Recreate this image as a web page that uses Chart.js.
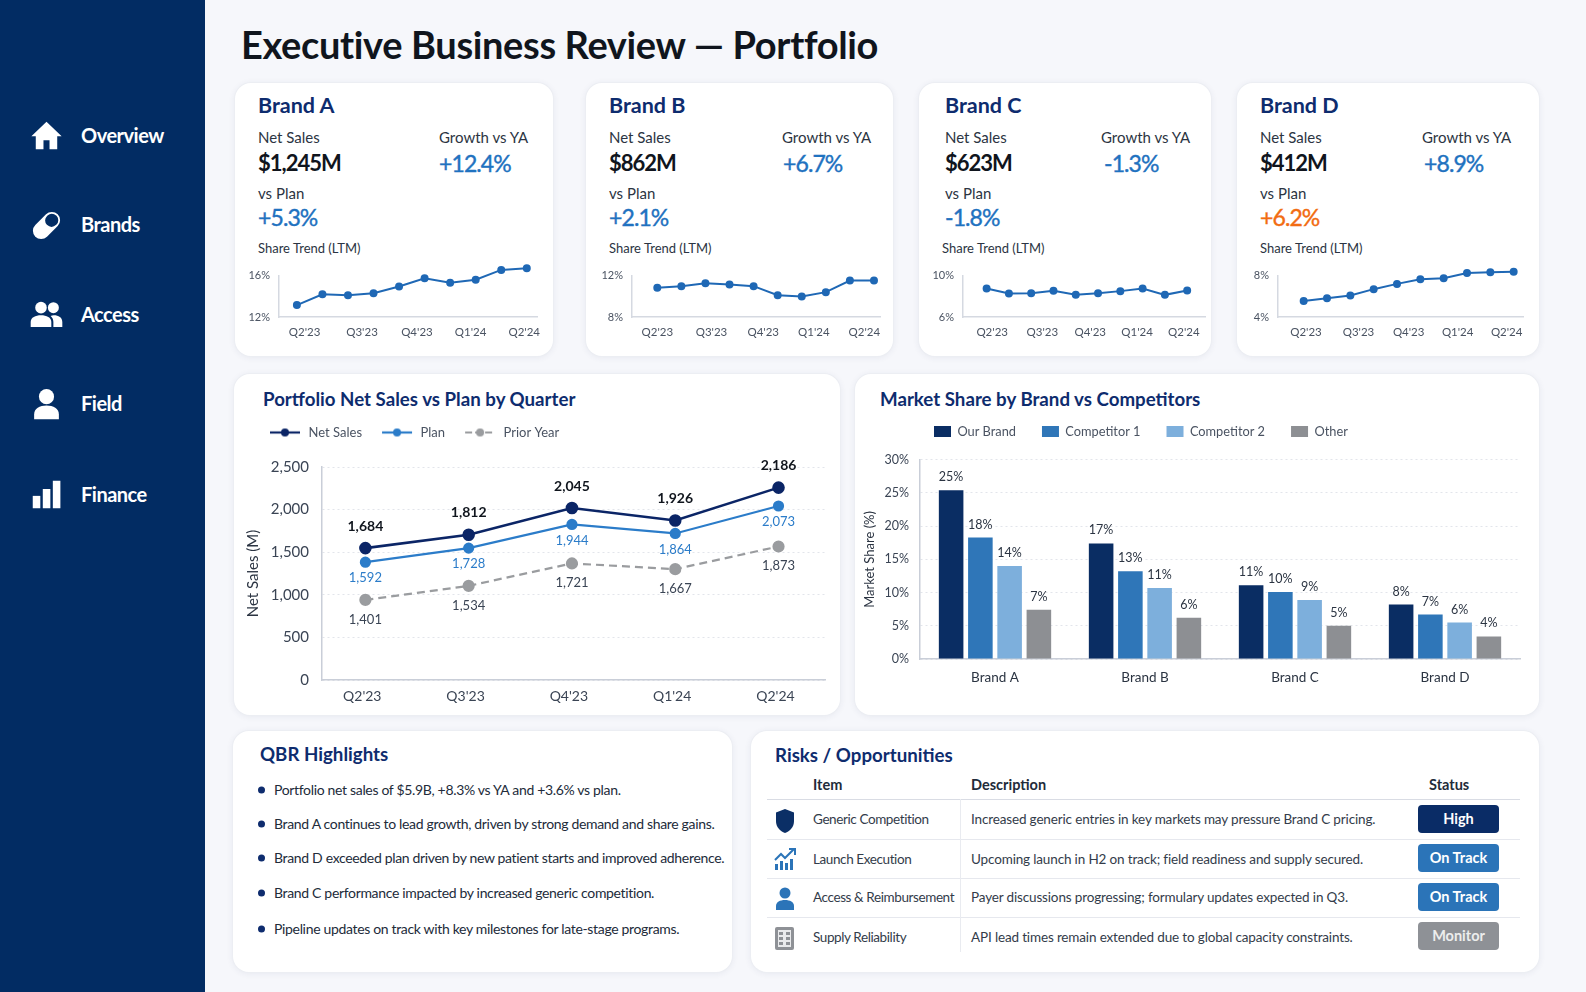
<!DOCTYPE html>
<html lang="en">
<head>
<meta charset="utf-8">
<title>Executive Business Review — Portfolio</title>
<script src="https://cdn.jsdelivr.net/npm/chart.js@4"></script>
<style>
  * { box-sizing: border-box; margin: 0; padding: 0; }
  html, body { width: 1586px; height: 992px; overflow: hidden; }
  body { position: relative; background: #f6f7fb; font-family: Lato, "Noto Sans", sans-serif; color: #222b3a; }
  .abs, .t, canvas, .card, .pill, svg { position: absolute; }
  .t { white-space: nowrap; line-height: 1; transform: translateY(-50%); }
  #side { position: absolute; left: 0; top: 0; width: 205px; height: 992px; background: #022c63; }
  .nav { left: 81px; color: #fff; font-size: 20px; font-weight: 700; letter-spacing: -0.5px; }
  h1.t { left: 241px; top: 44px; font-size: 38px; font-weight: 700; color: #10151d; letter-spacing: -0.36px; }
  .card { background: #fff; border-radius: 16px; box-shadow: 0 0 0 1px #eceef3, 0 1px 7px rgba(40,60,100,.09); }
  .brand { font-size: 21.5px; font-weight: 700; color: #0e2c6e; }
  .lab { font-size: 15px; color: #2b3442; }
  .num { font-size: 22px; font-weight: 700; color: #10151d; letter-spacing: -1px; }
  .pct { font-size: 23px; font-weight: 400; color: #1f72c0; letter-spacing: -0.9px; -webkit-text-stroke: 0.4px currentColor; }
  .small { font-size: 13px; color: #2b3442; }
  .h2 { font-size: 18.7px; font-weight: 700; color: #0e2c6e; }
  .li { font-size: 14px; color: #222b3a; letter-spacing: -0.33px; }
  .dot { position: absolute; width: 7px; height: 7px; border-radius: 50%; background: #0e2c6e; transform: translateY(-50%); }
  .th { font-size: 14.5px; font-weight: 700; color: #222b3a; }
  .td { font-size: 13.5px; color: #333c4a; letter-spacing: -0.15px; }
  .item { letter-spacing: -0.4px; }
  .rule { position: absolute; background: #e6e8ee; height: 1px; left: 767px; width: 753px; }
  .pill { left: 1418px; width: 81px; height: 28px; border-radius: 4px; color: #fff; font-size: 14.5px; font-weight: 700; line-height: 28px; text-align: center; }
</style>
</head>
<body>
<div id="side"></div>
<svg style="left:30px;top:119px" width="33" height="33" viewBox="0 0 24 24" fill="#fff"><path d="M12 2 1 12.5h3.2V22h5.6v-6.5h4.4V22h5.6v-9.5H23z"/></svg>
<svg style="left:30px;top:209px" width="33" height="33" viewBox="0 0 24 24"><g transform="rotate(-45 12 12)"><rect x="0.5" y="6" width="23" height="12" rx="6" fill="#fff"/><rect x="12.6" y="7.4" width="9.5" height="9.2" rx="4.4" fill="#022c63"/></g></svg>
<svg style="left:30px;top:298px" width="33" height="33" viewBox="0 0 24 24" fill="#fff"><circle cx="8" cy="7" r="4.2"/><circle cx="17" cy="7" r="4"/><path d="M0.5 21v-3.5C0.5 14 4 12.5 8 12.5s7.500 1.500 7.500 5V21z"/><path d="M17 21v-3.500c0-2-.8-3.500-2-4.500.7-.3 1.500-.5 2.300-.5 3.500 0 6.200 1.500 6.200 5V21z"/></svg>
<svg style="left:30px;top:387px" width="33" height="33" viewBox="0 0 24 24" fill="#fff"><circle cx="12" cy="7" r="5.500"/><path d="M3 23.500v-3.500c0-4.500 4-6.500 9-6.500s9 2 9 6.500v3.500z"/></svg>
<svg style="left:30px;top:478px" width="33" height="33" viewBox="0 0 24 24" fill="#fff"><rect x="2" y="13" width="5.500" height="9"/><rect x="9.300" y="8" width="5.500" height="14"/><rect x="16.600" y="2" width="5.500" height="20"/></svg>
<div class="t nav" style="top:135px">Overview</div>
<div class="t nav" style="top:224px">Brands</div>
<div class="t nav" style="top:314px">Access</div>
<div class="t nav" style="top:403px">Field</div>
<div class="t nav" style="top:494px">Finance</div>

<h1 class="t">Executive Business Review — Portfolio</h1>

<div class="card" style="left:235px;top:83px;width:318px;height:273px"></div>
<div class="t brand" style="left:258px;top:106px">Brand A</div>
<div class="t lab" style="left:258px;top:137px">Net Sales</div>
<div class="t lab" style="left:439px;top:137px">Growth vs YA</div>
<div class="t num" style="left:258px;top:163px">$1,245M</div>
<div class="t pct" style="left:439px;top:163px">+12.4%</div>
<div class="t lab" style="left:258px;top:193px">vs Plan</div>
<div class="t pct" style="left:258px;top:217px">+5.3%</div>
<div class="t small" style="left:258px;top:248px">Share Trend (LTM)</div>

<div class="card" style="left:586px;top:83px;width:307px;height:273px"></div>
<div class="t brand" style="left:609px;top:106px">Brand B</div>
<div class="t lab" style="left:609px;top:137px">Net Sales</div>
<div class="t lab" style="left:782px;top:137px">Growth vs YA</div>
<div class="t num" style="left:609px;top:163px">$862M</div>
<div class="t pct" style="left:783px;top:163px">+6.7%</div>
<div class="t lab" style="left:609px;top:193px">vs Plan</div>
<div class="t pct" style="left:609px;top:217px">+2.1%</div>
<div class="t small" style="left:609px;top:248px">Share Trend (LTM)</div>

<div class="card" style="left:919px;top:83px;width:292px;height:273px"></div>
<div class="t brand" style="left:945px;top:106px">Brand C</div>
<div class="t lab" style="left:945px;top:137px">Net Sales</div>
<div class="t lab" style="left:1101px;top:137px">Growth vs YA</div>
<div class="t num" style="left:945px;top:163px">$623M</div>
<div class="t pct" style="left:1104px;top:163px">-1.3%</div>
<div class="t lab" style="left:945px;top:193px">vs Plan</div>
<div class="t pct" style="left:945px;top:217px">-1.8%</div>
<div class="t small" style="left:942px;top:248px">Share Trend (LTM)</div>

<div class="card" style="left:1237px;top:83px;width:302px;height:273px"></div>
<div class="t brand" style="left:1260px;top:106px">Brand D</div>
<div class="t lab" style="left:1260px;top:137px">Net Sales</div>
<div class="t lab" style="left:1422px;top:137px">Growth vs YA</div>
<div class="t num" style="left:1260px;top:163px">$412M</div>
<div class="t pct" style="left:1424px;top:163px">+8.9%</div>
<div class="t lab" style="left:1260px;top:193px">vs Plan</div>
<div class="t pct" style="left:1260px;top:217px;color:#f26c12">+6.2%</div>
<div class="t small" style="left:1260px;top:248px">Share Trend (LTM)</div>

<div class="card" style="left:234px;top:374px;width:606px;height:341px"></div>
<div class="t h2" style="left:263px;top:399px">Portfolio Net Sales vs Plan by Quarter</div>
<div class="card" style="left:855px;top:374px;width:684px;height:341px"></div>
<div class="t h2" style="left:880px;top:399px">Market Share by Brand vs Competitors</div>

<div class="card" style="left:233px;top:731px;width:499px;height:241px"></div>
<div class="t h2" style="left:260px;top:754px">QBR Highlights</div>
<div class="dot" style="left:258px;top:790px"></div><div class="t li" style="left:274px;top:790px">Portfolio net sales of $5.9B, +8.3% vs YA and +3.6% vs plan.</div>
<div class="dot" style="left:258px;top:824px"></div><div class="t li" style="left:274px;top:824px">Brand A continues to lead growth, driven by strong demand and share gains.</div>
<div class="dot" style="left:258px;top:858px"></div><div class="t li" style="left:274px;top:858px">Brand D exceeded plan driven by new patient starts and improved adherence.</div>
<div class="dot" style="left:258px;top:893px"></div><div class="t li" style="left:274px;top:893px">Brand C performance impacted by increased generic competition.</div>
<div class="dot" style="left:258px;top:929px"></div><div class="t li" style="left:274px;top:929px">Pipeline updates on track with key milestones for late-stage programs.</div>

<div class="card" style="left:751px;top:731px;width:788px;height:241px"></div>
<div class="t h2" style="left:775px;top:755px">Risks / Opportunities</div>
<div class="t th" style="left:813px;top:785px">Item</div>
<div class="t th" style="left:971px;top:785px">Description</div>
<div class="t th" style="left:1429px;top:785px">Status</div>
<div class="rule" style="top:799px;background:#d9dce4"></div>
<div class="rule" style="top:839px"></div>
<div class="rule" style="top:878px"></div>
<div class="rule" style="top:917px"></div>
<div class="abs" style="left:960px;top:799px;width:1px;height:153px;background:#e9ebf0"></div>
<svg style="left:773px;top:808px" width="24" height="26" viewBox="0 0 24 26" fill="#0b2f66"><path d="M12 1 3 4.500V13c0 6 4 10 9 12 5-2 9-6 9-12V4.500z"/></svg>
<svg style="left:773px;top:847px" width="24" height="24" viewBox="0 0 24 24"><g fill="#2b74b8"><rect x="2" y="17" width="3" height="6"/><rect x="7" y="14" width="3" height="9"/><rect x="12" y="16" width="3" height="7"/><rect x="17" y="12" width="3" height="11"/></g><path d="M2 13 8 7l4 4 9-9M16 2h6v6" fill="none" stroke="#2b74b8" stroke-width="2"/></svg>
<svg style="left:773px;top:886px" width="24" height="25" viewBox="0 0 24 25" fill="#2b74b8"><circle cx="12" cy="7" r="5.500"/><path d="M3 24v-4c0-4 4-6 9-6s9 2 9 6v4z"/></svg>
<svg style="left:774px;top:926px" width="21" height="25" viewBox="0 0 21 25"><rect x="1" y="1" width="19" height="23" rx="2" fill="#8e9196"/><rect x="4" y="4" width="13" height="17" fill="#e9eaec"/><g fill="#8e9196"><rect x="5" y="6" width="4" height="3"/><rect x="12" y="6" width="4" height="3"/><rect x="5" y="11" width="4" height="3"/><rect x="12" y="11" width="4" height="3"/><rect x="5" y="16" width="4" height="3"/><rect x="12" y="16" width="4" height="3"/></g></svg>
<div class="t td item" style="left:813px;top:820px">Generic Competition</div>
<div class="t td" style="left:971px;top:820px">Increased generic entries in key markets may pressure Brand C pricing.</div>
<div class="pill" style="top:805px;background:#0a2c66">High</div>
<div class="t td item" style="left:813px;top:860px">Launch Execution</div>
<div class="t td" style="left:971px;top:860px">Upcoming launch in H2 on track; field readiness and supply secured.</div>
<div class="pill" style="top:844px;background:#2b74b8">On Track</div>
<div class="t td item" style="left:813px;top:898px">Access &amp; Reimbursement</div>
<div class="t td" style="left:971px;top:898px">Payer discussions progressing; formulary updates expected in Q3.</div>
<div class="pill" style="top:883px;background:#2b74b8">On Track</div>
<div class="t td item" style="left:813px;top:938px">Supply Reliability</div>
<div class="t td" style="left:971px;top:938px">API lead times remain extended due to global capacity constraints.</div>
<div class="pill" style="top:922px;background:#8e9196;color:#eceded">Monitor</div>

<canvas id="sparkA" style="left:235px;top:260px;width:318px;height:90px" width="318" height="90"></canvas>
<canvas id="sparkB" style="left:586px;top:260px;width:307px;height:90px" width="307" height="90"></canvas>
<canvas id="sparkC" style="left:919px;top:260px;width:292px;height:90px" width="292" height="90"></canvas>
<canvas id="sparkD" style="left:1237px;top:260px;width:302px;height:90px" width="302" height="90"></canvas>
<canvas id="salesChart" style="left:234px;top:408px;width:606px;height:302px" width="606" height="302"></canvas>
<canvas id="shareChart" style="left:855px;top:399px;width:684px;height:290px" width="684" height="290"></canvas>

<script>
// chart values
const quarters   = ["Q2'23","Q3'23","Q4'23","Q1'24","Q2'24"];
const netSales   = [1548,1705,2018,1872,2258];
const planSales  = [1383,1548,1826,1720,2042];
const priorYear  = [940,1105,1368,1301,1567];
const netText    = ['1,684','1,812','2,045','1,926','2,186'];
const planText   = ['1,592','1,728','1,944','1,864','2,073'];
const priorText  = ['1,401','1,534','1,721','1,667','1,873'];

const brands      = ['Brand A','Brand B','Brand C','Brand D'];
const ourBrand    = [25.4,17.4,11.1,8.2];
const competitor1 = [18.3,13.2,10.1,6.7];
const competitor2 = [14.0,10.7,8.9,5.5];
const otherShare  = [7.4,6.2,5.0,3.4];
const ourText     = ['25%','17%','11%','8%'];
const comp1Text   = ['18%','13%','10%','7%'];
const comp2Text   = ['14%','11%','9%','6%'];
const otherText   = ['7%','6%','5%','4%'];

const shareA = [13.15,14.2,14.1,14.3,14.95,15.75,15.3,15.6,16.55,16.7];
const shareB = [10.82,10.98,11.26,11.14,10.98,10.11,9.98,10.4,11.52,11.52];
const shareC = [8.75,8.27,8.3,8.53,8.14,8.3,8.5,8.75,8.14,8.56];
const shareD = [5.54,5.82,6.08,6.69,7.2,7.65,7.74,8.26,8.32,8.38];

Chart.defaults.font.family = 'Lato, "Noto Sans", sans-serif';
Chart.defaults.color = '#3a4454';
Chart.defaults.animation = false;
Chart.defaults.responsive = false;

const NAVY = '#0b2566', BLUE = '#2b7cc9', GREY = '#9a9c9f';

// texts next to the marks, each dataset carries its own
const markText = {
  id: 'markText',
  afterDatasetsDraw(chart){
    const ctx = chart.ctx;
    chart.data.datasets.forEach((ds,i)=>{
      if(!ds.markLabels) return;
      ctx.save();
      ctx.font = ds.markFont;
      ctx.fillStyle = ds.markColor;
      ctx.textAlign = 'center';
      ctx.textBaseline = 'middle';
      chart.getDatasetMeta(i).data.forEach((el,j)=>{
        ctx.fillText(ds.markLabels[j], el.x, el.y + ds.markOffset);
      });
      ctx.restore();
    });
  }
};

// moves the legend sideways and leaves a gap under it
function legendPlace(dx,gap){
  return {
    id: 'legendPlace',
    beforeInit(chart){
      const fit = chart.legend.fit;
      chart.legend.fit = function(){ fit.call(this); this.height += gap; };
    },
    afterLayout(chart){ chart.legend.left += dx; }
  };
}

// share goes above the top tick on Brand A, points there would be skipped otherwise
const roomAbove = {
  id: 'roomAbove',
  beforeDatasetsDraw(chart){ chart.chartArea.top -= 12; },
  afterDatasetsDraw(chart){ chart.chartArea.top += 12; }
};

function lineKey(color,dashed){
  const c = document.createElement('canvas');
  c.width = 32; c.height = 12;
  const g = c.getContext('2d');
  g.strokeStyle = color; g.fillStyle = color; g.lineWidth = 2.2;
  if(dashed) g.setLineDash([7,3]);
  g.beginPath(); g.moveTo(1,6); g.lineTo(31,6); g.stroke();
  g.beginPath(); g.arc(16,6,4,0,Math.PI*2); g.fill();
  return c;
}

function spark(id,values,lo,hi,xmin,xmax,plotLeft,plotRight,tickShift){
  new Chart(document.getElementById(id),{
    type:'line',
    data:{ datasets:[{
      data: values.map((v,i)=>({x:i,y:v})),
      borderColor:'#1f68b5', backgroundColor:'#1f68b5', borderWidth:2,
      pointRadius:3, tension:0, clip:false
    }]},
    options:{
      layout:{ padding:{ top:2, right:plotRight, left:0, bottom:0 } },
      plugins:{ legend:{display:false}, tooltip:{enabled:false} },
      scales:{
        x:{ type:'linear', min:xmin, max:xmax,
            afterBuildTicks(s){ s.ticks = [0.1,2.35,4.5,6.6,8.7].map(v=>({value:v+tickShift})); },
            afterFit(s){ s.height = 33; },
            grid:{display:false,drawTicks:false}, border:{color:'#d5d9e1',width:1.5},
            ticks:{ font:{size:11.5}, padding:8, maxRotation:0, autoSkip:false, color:'#4a5362',
                    callback:(v,i)=>quarters[i] } },
        y:{ min:lo, max:hi,
            afterBuildTicks(s){ s.ticks = [{value:lo},{value:hi}]; },
            afterFit(s){ s.width = plotLeft; },
            grid:{display:false,drawTicks:false}, border:{color:'#d5d9e1',width:1.5},
            ticks:{ font:{size:11}, padding:9, color:'#4a5362', callback:v=>v+'%' } }
      }
    },
    plugins:[roomAbove]
  });
}
spark('sparkA',shareA,12,16,-0.7,9.4,44,16,0.2);
spark('sparkB',shareB,8,12,-1.05,9.25,46,13,-0.1);
spark('sparkC',shareC,6,10,-1.06,9.8,44,6,0.15);
spark('sparkD',shareD,4,8,-1.1,9.4,41,16,0);

new Chart(document.getElementById('salesChart'),{
  type:'line',
  data:{ datasets:[
    { label:'Net Sales', data:netSales.map((y,x)=>({x,y})), borderColor:NAVY, backgroundColor:NAVY,
      borderWidth:2.6, pointRadius:5, keyImg:lineKey(NAVY,false),
      markLabels:netText, markFont:'700 14px Lato', markColor:'#10151d', markOffset:-22 },
    { label:'Plan', data:planSales.map((y,x)=>({x,y})), borderColor:BLUE, backgroundColor:BLUE,
      borderWidth:2.2, pointRadius:4.5, keyImg:lineKey(BLUE,false),
      markLabels:planText, markFont:'13px Lato', markColor:BLUE, markOffset:16 },
    { label:'Prior Year', data:priorYear.map((y,x)=>({x,y})), borderColor:GREY, backgroundColor:GREY,
      borderWidth:2.2, borderDash:[8,5], pointRadius:5, keyImg:lineKey(GREY,true),
      markLabels:priorText, markFont:'13px Lato', markColor:'#3a4454', markOffset:19.5 }
  ]},
  options:{
    layout:{ padding:{ left:10, right:15 } },
    plugins:{
      tooltip:{enabled:false},
      legend:{ align:'start', labels:{
        padding:18, usePointStyle:true, pointStyleWidth:34, font:{size:13}, color:'#4a5362',
        generateLabels:c=>c.data.datasets.map((d,i)=>({
          text:d.label, datasetIndex:i, pointStyle:d.keyImg, fontColor:'#4a5362',
          lineWidth:0, strokeStyle:'transparent', fillStyle:'transparent'
        }))
      }}
    },
    scales:{
      x:{ type:'linear', min:-0.42, max:4.45,
          afterBuildTicks(s){ s.ticks = quarters.map((q,i)=>({value:i-0.03})); },
          afterFit(s){ s.height = 30; },
          grid:{display:false,drawTicks:false}, border:{color:'#c9ced8',width:1.5},
          ticks:{ font:{size:14}, padding:8, color:'#3a4454', callback:(v,i)=>quarters[i] } },
      y:{ min:0, max:2500,
          afterFit(s){ s.width = 78; },
          title:{ display:true, text:'Net Sales (M)', font:{size:15}, color:'#2b3442', padding:{top:0,bottom:0} },
          grid:{ color:'#e2e5eb', drawTicks:false }, border:{ color:'#c9ced8', width:1.5, dash:[2,3] },
          ticks:{ stepSize:500, font:{size:15}, padding:13, color:'#3a4454',
                  callback:v=>v.toLocaleString('en-US') } }
    }
  },
  plugins:[markText, legendPlace(6,18)]
});

const barText = { markFont:'12.5px Lato', markColor:'#2b3442', markOffset:-13 };
new Chart(document.getElementById('shareChart'),{
  type:'bar',
  data:{ labels:brands, datasets:[
    { label:'Our Brand', data:ourBrand, backgroundColor:'#0a2d63', markLabels:ourText, ...barText },
    { label:'Competitor 1', data:competitor1, backgroundColor:'#2f76b8', markLabels:comp1Text, ...barText },
    { label:'Competitor 2', data:competitor2, backgroundColor:'#7dafdc', markLabels:comp2Text, ...barText },
    { label:'Other', data:otherShare, backgroundColor:'#8d8f93', markLabels:otherText, ...barText }
  ]},
  options:{
    categoryPercentage:0.78, barPercentage:0.84,
    layout:{ padding:{ left:0, right:19 } },
    plugins:{
      tooltip:{enabled:false},
      legend:{ align:'start', labels:{ padding:26, boxWidth:17, boxHeight:11, font:{size:12.8}, color:'#4a5362' } }
    },
    scales:{
      x:{ afterFit(s){ s.height = 30; },
          grid:{display:false,drawTicks:false}, border:{color:'#c9ced8',width:1.5},
          ticks:{ font:{size:13.5}, padding:11, color:'#2b3442' } },
      y:{ min:0, max:30,
          afterFit(s){ s.width = 65; },
          title:{ display:true, text:'Market Share (%)', font:{size:13}, color:'#2b3442', padding:{top:7,bottom:0} },
          grid:{ color:'#e2e5eb', drawTicks:false }, border:{ color:'#c9ced8', width:1.5, dash:[2,3] },
          ticks:{ stepSize:5, font:{size:12.5}, padding:11, color:'#3a4454', callback:v=>v+'%' } }
    }
  },
  plugins:[markText, legendPlace(53,12)]
});
</script>
</body>
</html>
